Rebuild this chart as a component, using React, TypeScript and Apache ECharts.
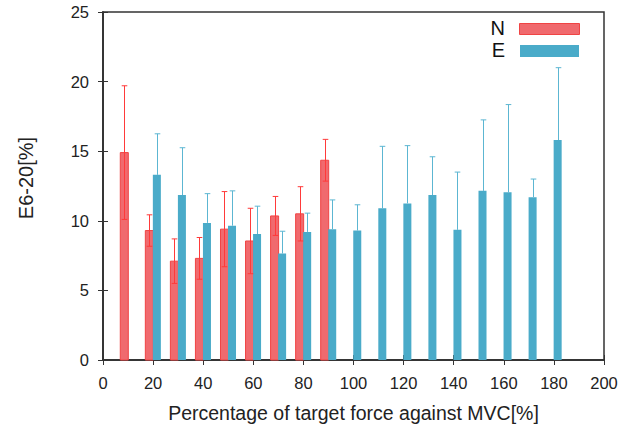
import React, { useEffect, useRef } from "react";
import * as echarts from "echarts";

const nForce = [10, 20, 30, 40, 50, 60, 70, 80, 90];
const nMean = [14.9, 9.3, 7.1, 7.3, 9.4, 8.55, 10.35, 10.5, 14.35];
const nSd = [4.8, 1.13, 1.6, 1.5, 2.7, 2.35, 1.4, 1.95, 1.5];

const eForce = [20, 30, 40, 50, 60, 70, 80, 90, 100, 110, 120, 130, 140, 150, 160, 170, 180];
const eMean = [13.3, 11.85, 9.85, 9.65, 9.05, 7.65, 9.2, 9.4, 9.3, 10.9, 11.25, 11.85, 9.35, 12.15, 12.05, 11.7, 15.8];
const eSd = [2.95, 3.4, 2.1, 2.5, 2.0, 1.6, 1.35, 2.1, 1.85, 4.45, 4.15, 2.75, 4.15, 5.1, 6.3, 1.3, 5.2];

const legendNames = ["N", "E"];

const RED_FILL = "#f06a6e";
const RED_EDGE = "#f04444";
const RED_ERR = "#ff3a3a";
const BLUE = "#4aabc9";
const BLUE_ERR = "#5cb6d2";
const FONT = "'Liberation Sans', Arial, Helvetica, sans-serif";

const OFFSET = 1.5;
const HALF = 1.6;

function barSeries(name: string, xs: number[], ys: number[], sign: number, fill: string, edge: string) {
  return {
    type: "custom",
    name,
    xAxisIndex: 0,
    yAxisIndex: 0,
    data: xs.map((x, i) => [x, ys[i]]),
    z: 2,
    renderItem: (params: any, api: any) => {
      const cx = (api.value(0) as number) + sign * OFFSET;
      const v = api.value(1) as number;
      const p0 = api.coord([cx - HALF, 0]);
      const p1 = api.coord([cx + HALF, v]);
      return {
        type: "rect",
        shape: { x: p0[0], y: p1[1], width: p1[0] - p0[0], height: p0[1] - p1[1] },
        style: { fill, stroke: edge, lineWidth: edge === fill ? 0 : 1 },
      };
    },
  };
}

function errSeries(xs: number[], ys: number[], sds: number[], sign: number, color: string, upperOnly: boolean) {
  return {
    type: "custom",
    xAxisIndex: 0,
    yAxisIndex: 0,
    data: xs.map((x, i) => [x, ys[i], sds[i]]),
    z: 3,
    renderItem: (params: any, api: any) => {
      const cx = (api.value(0) as number) + sign * OFFSET;
      const m = api.value(1) as number;
      const s = api.value(2) as number;
      const top = api.coord([cx, m + s]);
      const mid = api.coord([cx, m]);
      const bot = api.coord([cx, m - s]);
      const x = Math.round(top[0]) + 0.5;
      const cap = 2.8;
      const st = { stroke: color, lineWidth: 1 };
      const children: any[] = [
        { type: "line", shape: { x1: x, y1: top[1], x2: x, y2: upperOnly ? mid[1] : bot[1] }, style: st },
        { type: "line", shape: { x1: x - cap, y1: top[1], x2: x + cap, y2: top[1] }, style: st },
      ];
      if (!upperOnly) {
        children.push({ type: "line", shape: { x1: x - cap, y1: bot[1], x2: x + cap, y2: bot[1] }, style: st });
      }
      return { type: "group", children };
    },
  };
}

export default function App() {
  const ref = useRef<HTMLDivElement>(null);
  useEffect(() => {
    if (!ref.current) return;
    const chart = echarts.init(ref.current, undefined, { renderer: "svg" });
    const axisLine = { show: true, lineStyle: { color: "#333", width: 1.5 } };
    const tick = { show: true, inside: true, length: 5, lineStyle: { color: "#333", width: 1 } };
    chart.setOption({
      animation: false,
      backgroundColor: "#fff",
      grid: { left: 103, right: 35, top: 12, bottom: 71, show: true, borderColor: "#333", borderWidth: 1.5 },
      xAxis: [
        {
          type: "value",
          min: 0,
          max: 200,
          interval: 20,
          axisLine,
          axisTick: tick,
          splitLine: { show: false },
          axisLabel: { color: "#222", fontSize: 16.5, fontFamily: FONT, margin: 14 },
          name: "Percentage of target force against MVC[%]",
          nameLocation: "middle",
          nameGap: 43,
          nameTextStyle: { color: "#222", fontSize: 19.5, fontFamily: FONT, verticalAlign: "top" },
        },
        {
          type: "value",
          position: "top",
          min: 0,
          max: 200,
          interval: 20,
          axisLine,
          axisTick: tick,
          splitLine: { show: false },
          axisLabel: { show: false },
        },
      ],
      yAxis: [
        {
          type: "value",
          min: 0,
          max: 25,
          interval: 5,
          axisLine,
          axisTick: tick,
          splitLine: { show: false },
          axisLabel: { color: "#222", fontSize: 16.5, fontFamily: FONT, margin: 14 },
          name: "E6-20[%]",
          nameLocation: "middle",
          nameGap: 67,
          nameRotate: 90,
          nameTextStyle: { color: "#222", fontSize: 20, fontFamily: FONT, padding: [0, 0, 0, 16] },
        },
        {
          type: "value",
          position: "right",
          min: 0,
          max: 25,
          interval: 5,
          axisLine,
          axisTick: tick,
          splitLine: { show: false },
          axisLabel: { show: false },
        },
      ],
      series: [
        barSeries(legendNames[0], nForce, nMean, -1, RED_FILL, RED_EDGE),
        barSeries(legendNames[1], eForce, eMean, 1, BLUE, BLUE),
        errSeries(nForce, nMean, nSd, -1, RED_ERR, false),
        errSeries(eForce, eMean, eSd, 1, BLUE_ERR, true),
      ],
      graphic: [
        {
          type: "text",
          right: 639 - 505,
          top: 18,
          style: { text: legendNames[0], fontSize: 20, fontFamily: FONT, fill: "#111", align: "right" },
        },
        {
          type: "rect",
          left: 519,
          top: 23,
          shape: { width: 60, height: 11 },
          style: { fill: RED_FILL, stroke: RED_EDGE, lineWidth: 1 },
        },
        {
          type: "text",
          right: 639 - 505,
          top: 40,
          style: { text: legendNames[1], fontSize: 20, fontFamily: FONT, fill: "#111", align: "right" },
        },
        {
          type: "rect",
          left: 520,
          top: 45,
          shape: { width: 59, height: 12 },
          style: { fill: BLUE },
        },
      ],
    });
    return () => chart.dispose();
  }, []);
  return <div ref={ref} style={{ width: 639, height: 431, position: "absolute", left: 0, top: 0 }} />;
}
